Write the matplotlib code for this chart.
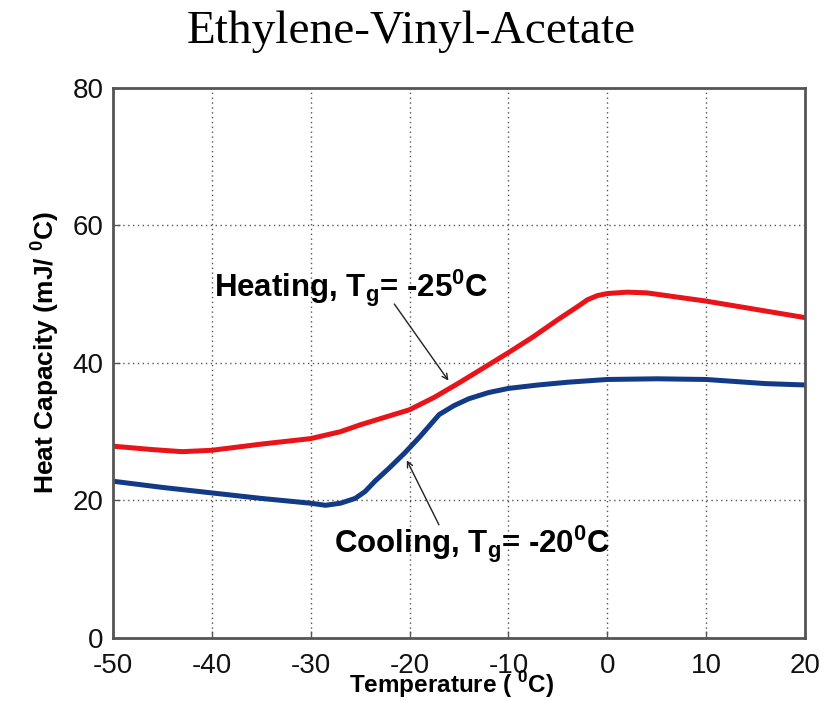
import matplotlib

matplotlib.use("Agg")
import matplotlib.pyplot as plt

# ── data ───────────────────────────────────────────────────────────────
heat_T = [-50, -46, -43, -40, -35, -30, -27, -25, -22.5, -20, -17.5, -15,
          -12.5, -10, -7.5, -5, -3, -2, -1, 0, 2, 4, 7, 10, 15, 20]
heat_cp = [27.9, 27.4, 27.1, 27.3, 28.2, 29.0, 30.0, 31.0, 32.1, 33.2, 35.0,
           37.1, 39.3, 41.5, 43.8, 46.3, 48.2, 49.2, 49.8, 50.1, 50.3, 50.2,
           49.6, 49.0, 47.8, 46.6]

cool_T = [-50, -45, -40, -35, -30, -28.5, -27, -25.5, -24.5, -23.5, -22,
          -20.5, -19, -17, -15.5, -14, -12, -10, -7, -4, 0, 5, 10, 13, 16, 20]
cool_cp = [22.8, 21.9, 21.1, 20.3, 19.6, 19.3, 19.6, 20.3, 21.3, 22.8, 24.8,
           26.9, 29.2, 32.5, 33.8, 34.8, 35.7, 36.3, 36.8, 37.2, 37.6, 37.7,
           37.6, 37.3, 37.0, 36.8]

x_ticks = [-50, -40, -30, -20, -10, 0, 10, 20]
y_ticks = [0, 20, 40, 60, 80]

heat_label = r"Heating, T$_\mathbf{g}$= -25$^\mathbf{0}$C"
cool_label = r"Cooling, T$_\mathbf{g}$= -20$^\mathbf{0}$C"

# ── plot ───────────────────────────────────────────────────────────────
plt.rcParams["font.family"] = ["Liberation Sans", "DejaVu Sans"]
plt.rcParams["mathtext.fontset"] = "custom"
plt.rcParams["mathtext.rm"] = "Liberation Sans"
plt.rcParams["mathtext.bf"] = "Liberation Sans:bold"
plt.rcParams["axes.unicode_minus"] = False

fig = plt.figure(figsize=(8.32, 7.01), dpi=100)
ax = fig.add_axes([0.1358, 0.0899, 0.8317, 0.7846])

ax.plot(heat_T, heat_cp, color="#e8141a", lw=3.6, solid_capstyle="round")
ax.plot(cool_T, cool_cp, color="#123a86", lw=3.6, solid_capstyle="round")

ax.set_xlim(-50, 20)
ax.set_ylim(0, 80)
ax.set_xticks(x_ticks)
ax.set_yticks(y_ticks)
ax.tick_params(direction="in", length=5, width=1, labelsize=20,
               colors="#555555", labelcolor="#111111")
ax.tick_params(axis="x", pad=11)
ax.tick_params(axis="y", pad=7)
ax.grid(True, linestyle=(0, (1, 2.5)), color="#555555", lw=1.0)
for s in ax.spines.values():
    s.set_color("#555555")
    s.set_linewidth(2)

ax.set_xlabel(r"Temperature ( $^\mathbf{0}$C)", fontsize=17.5,
              fontweight="bold", labelpad=-7, x=0.49)
ax.set_ylabel(r"Heat Capacity (mJ/ $^\mathbf{0}$C)", fontsize=19,
              fontweight="bold", labelpad=8, y=0.52)
fig.text(0.494, 0.955, "Ethylene-Vinyl-Acetate", fontsize=34,
         family="Liberation Serif", ha="center", va="center")

arrow = dict(arrowstyle="->", color="#222222", lw=1.0)
ax.annotate("", xy=(-15.9, 37.1), xytext=(-21.7, 48.9), arrowprops=arrow)
ax.annotate("", xy=(-20.4, 26.2), xytext=(-16.9, 16.1), arrowprops=arrow)
ax.text(-39.8, 50.8, heat_label, fontsize=22.5, fontweight="bold",
        va="center", ha="left")
ax.text(-27.6, 13.7, cool_label, fontsize=22.5, fontweight="bold",
        va="center", ha="left")

fig.savefig("out.png", dpi=100)
